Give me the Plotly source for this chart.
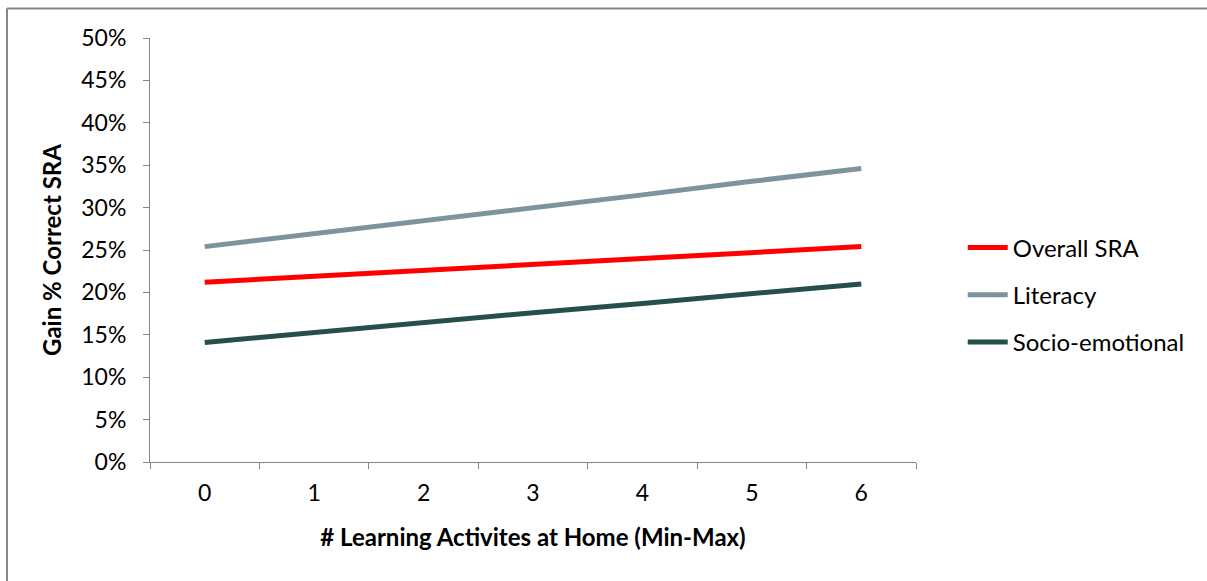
import plotly.graph_objects as go

# Number of learning activities at home (min to max)
activities = ["0", "1", "2", "3", "4", "5", "6"]

# Gain in percent correct on the SRA, by domain
overall_sra = [0.212, 0.219, 0.226, 0.233, 0.240, 0.247, 0.254]
literacy = [0.254, 0.269, 0.285, 0.300, 0.315, 0.331, 0.346]
socio_emotional = [0.141, 0.153, 0.164, 0.176, 0.187, 0.199, 0.210]

series = [
    ("Overall SRA", overall_sra, "#FF0000"),
    ("Literacy", literacy, "#7F939E"),
    ("Socio-emotional", socio_emotional, "#254F4B"),
]

FONT = "Lato, 'Open Sans', sans-serif"
AXIS_GREY = "#868686"

fig = go.Figure()
for i, (name, values, color) in enumerate(series):
    fig.add_trace(go.Scatter(
        x=activities, y=values, name=name, mode="lines",
        line=dict(color=color, width=5),
        legendgroup=f"g{i}",
    ))

W, H = 1207, 581
L, R, T, B = 150, 291, 38, 119
PW, PH = W - L - R, H - T - B

# chart frame: left and top edges, running to the page edge
fx0 = (7 - L) / PW
fx1 = (W - L) / PW
fy0 = (H - B - H) / PH
fy1 = (H - B - 8.5) / PH
frame = dict(type="line", xref="paper", yref="paper",
             line=dict(color="#878787", width=2), layer="below")

fig.update_layout(
    width=W, height=H,
    margin=dict(l=L, r=R, t=T, b=B),
    paper_bgcolor="white", plot_bgcolor="white",
    font=dict(family=FONT, size=23, color="black"),
    showlegend=True,
    legend=dict(
        x=1.061, y=0.394, xanchor="left", yanchor="middle",
        font=dict(family=FONT, size=24, color="black"),
        tracegroupgap=13, itemwidth=40,
        bgcolor="rgba(0,0,0,0)",
    ),
    xaxis=dict(
        type="category", range=[-0.5, 6.5],
        tickson="boundaries", ticks="outside", ticklen=6,
        tickcolor=AXIS_GREY, ticklabelstandoff=10,
        showline=True, linecolor=AXIS_GREY, linewidth=1,
        showgrid=False, zeroline=False,
        title=dict(text="<b># Learning Activites at Home (Min-Max)</b>",
                   font=dict(family=FONT, size=24), standoff=24),
    ),
    yaxis=dict(
        range=[0, 0.5], dtick=0.05, tickformat=".0%",
        ticks="outside", ticklen=6, tickcolor=AXIS_GREY,
        ticklabelstandoff=12,
        showline=True, linecolor=AXIS_GREY, linewidth=1,
        showgrid=False, zeroline=False,
        title=dict(text="<b>Gain % Correct SRA</b>",
                   font=dict(family=FONT, size=24), standoff=12),
    ),
    shapes=[
        dict(frame, x0=fx0, x1=fx0, y0=fy0, y1=fy1),
        dict(frame, x0=fx0, x1=fx1, y0=fy1, y1=fy1),
    ],
)

fig.write_html("out.html")
